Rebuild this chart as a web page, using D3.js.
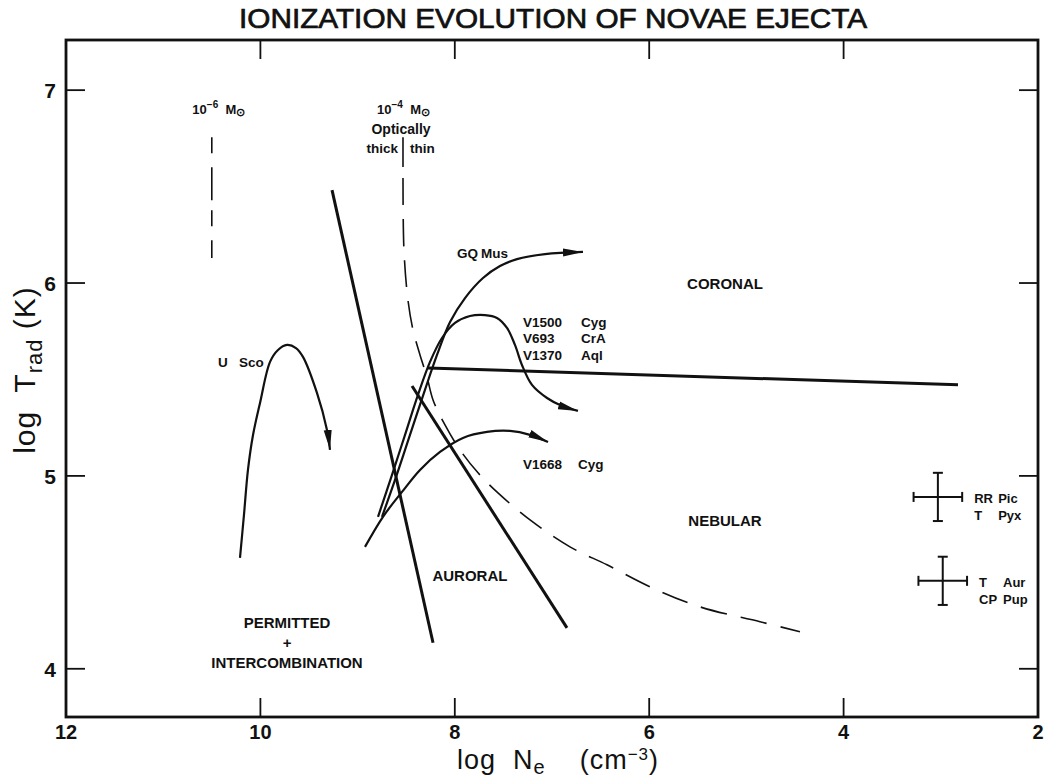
<!DOCTYPE html>
<html>
<head>
<meta charset="utf-8">
<script src="https://cdn.jsdelivr.net/npm/d3@7"></script>
<style>
  body { margin: 0; background: #fff; }
  text { font-family: "Liberation Sans", Arial, sans-serif; fill: #111; }
</style>
</head>
<body>
<div id="chart"></div>
<script>
// axis ticks
const xTicks = [12, 10, 8, 6, 4, 2]
, yTicks = [4, 5, 6, 7]
, innerXTicks = [10, 8, 6, 4];

// boundary lines (log Ne, log Trad)
const lineA = [[9.263, 6.482], [8.224, 4.135]]
, lineB = [[8.440, 5.466], [6.846, 4.212]]
, lineCoronal = [[8.276, 5.560], [2.823, 5.472]];

// 10^-6 Msun optical depth limit
const mass6 = [[10.5, 6.756], [10.5, 6.130]];

// 10^-4 Msun thick/thin separator and dashed limit
const mass4Sep = [[8.533, 6.756], [8.533, 6.601]];
const mass4 = [
  [8.533, 6.544], [8.523, 6.171], [8.482, 5.912], [8.430, 5.757], [8.358, 5.627],
  [8.286, 5.513], [8.224, 5.394], [8.101, 5.264], [7.947, 5.135], [7.761, 5.016],
  [7.556, 4.912], [7.226, 4.772], [6.815, 4.632], [6.434, 4.539], [5.992, 4.425],
  [5.477, 4.321], [4.860, 4.244], [4.449, 4.192]
];

// nova tracks
const uSco = [
  [10.210, 4.575], [10.169, 4.798], [10.128, 5.031], [10.076, 5.212], [10.004, 5.378],
  [9.901, 5.591], [9.819, 5.653], [9.726, 5.679], [9.634, 5.663], [9.562, 5.617],
  [9.418, 5.430], [9.315, 5.238], [9.284, 5.135]
];
const gqMus = [
  [8.749, 4.788], [8.615, 4.979], [8.461, 5.213], [8.307, 5.446], [8.183, 5.627],
  [8.049, 5.798], [7.895, 5.922], [7.710, 6.026], [7.535, 6.088], [7.360, 6.124],
  [7.072, 6.150], [6.681, 6.161]
];
const v1500 = [
  [8.790, 4.788], [8.646, 5.005], [8.512, 5.213], [8.379, 5.420], [8.255, 5.591],
  [8.132, 5.715], [7.998, 5.793], [7.844, 5.829], [7.689, 5.834], [7.566, 5.819],
  [7.463, 5.767], [7.381, 5.679], [7.309, 5.575], [7.206, 5.472], [7.051, 5.404],
  [6.918, 5.368], [6.733, 5.337]
];
const v1668 = [
  [8.924, 4.632], [8.739, 4.788], [8.543, 4.917], [8.358, 5.031], [8.152, 5.124],
  [7.916, 5.197], [7.669, 5.228], [7.432, 5.233], [7.226, 5.213], [7.041, 5.176]
];

// typical error bars
const errNames = [["RR", "Pic", "T", "Pyx"], ["T", "Aur", "CP", "Pup"]]
, errX = [3.03, 2.98]
, errY = [4.891, 4.456]
, errDx = 0.25
, errDy = 0.125;

// region labels
const regionNames = ["CORONAL", "NEBULAR", "AURORAL", "PERMITTED", "+", "INTERCOMBINATION"]
, regionX = [5.22, 5.22, 7.844, 9.726, 9.726, 9.726]
, regionY = [5.969, 4.741, 4.456, 4.213, 4.109, 4.005];

// track labels
const trackNames = [["U", "Sco"], ["GQ", "Mus"], ["V1500", "Cyg"], ["V693", "CrA"], ["V1370", "Aql"], ["V1668", "Cyg"]]
, trackX = [10.436, 7.977, 7.298, 7.298, 7.298, 7.298]
, trackY = [5.565, 6.130, 5.772, 5.689, 5.601, 5.036];

const width = 1050
, height = 781
, frameLeft = 66
, frameRight = 1038
, frameTop = 40
, frameBottom = 717
, ink = "#111";

const x = d3.scaleLinear().domain([12, 2]).range([frameLeft, frameRight])
, y = d3.scaleLinear().domain([3.75, 7.26]).range([frameBottom, frameTop]);

const svg = d3.select("#chart").append("svg")
  .attr("width", width)
  .attr("height", height);

svg.append("defs").append("marker")
  .attr("id", "arrow")
  .attr("viewBox", "0 -4.5 20 9")
  .attr("refX", 20)
  .attr("refY", 0)
  .attr("markerWidth", 20)
  .attr("markerHeight", 9)
  .attr("markerUnits", "userSpaceOnUse")
  .attr("orient", "auto")
  .append("path")
  .attr("d", "M0,-4L20,0L0,4Z")
  .style("fill", ink);

// frame
svg.append("rect")
  .attr("x", frameLeft).attr("y", frameTop)
  .attr("width", frameRight - frameLeft).attr("height", frameBottom - frameTop)
  .style("fill", "none").style("stroke", ink).style("stroke-width", 2.8);

// ticks on all four sides, pointing inward
const tickLen = 19;
innerXTicks.forEach(function(t) {
  svg.append("line").attr("x1", x(t)).attr("x2", x(t)).attr("y1", frameBottom).attr("y2", frameBottom - tickLen)
    .style("stroke", ink).style("stroke-width", 1.8);
  svg.append("line").attr("x1", x(t)).attr("x2", x(t)).attr("y1", frameTop).attr("y2", frameTop + tickLen)
    .style("stroke", ink).style("stroke-width", 1.8);
});
yTicks.forEach(function(t) {
  svg.append("line").attr("x1", frameLeft).attr("x2", frameLeft + tickLen).attr("y1", y(t)).attr("y2", y(t))
    .style("stroke", ink).style("stroke-width", 1.8);
  svg.append("line").attr("x1", frameRight).attr("x2", frameRight - tickLen).attr("y1", y(t)).attr("y2", y(t))
    .style("stroke", ink).style("stroke-width", 1.8);
});

svg.selectAll(".xtick").data(xTicks).enter().append("text")
  .attr("class", "xtick")
  .attr("x", function(d) { return x(d); })
  .attr("y", frameBottom + 22)
  .attr("text-anchor", "middle")
  .style("font-size", "20px").style("font-weight", "bold")
  .text(function(d) { return d; });

svg.selectAll(".ytick").data(yTicks).enter().append("text")
  .attr("class", "ytick")
  .attr("x", frameLeft - 10)
  .attr("y", function(d) { return y(d) + 8; })
  .attr("text-anchor", "end")
  .style("font-size", "21px").style("font-weight", "bold")
  .text(function(d) { return d; });

// title and axis labels
svg.append("text")
  .attr("x", 553).attr("y", 28)
  .attr("text-anchor", "middle")
  .attr("textLength", 628).attr("lengthAdjust", "spacingAndGlyphs")
  .style("font-size", "28px").style("stroke", ink).style("stroke-width", 0.7)
  .text("IONIZATION EVOLUTION OF NOVAE EJECTA");

const xl = svg.append("text")
  .attr("x", 558).attr("y", 769)
  .attr("text-anchor", "middle")
  .attr("xml:space", "preserve")
  .style("font-size", "27px").style("letter-spacing", "1px");
xl.append("tspan").text("log  N");
xl.append("tspan").attr("dy", 5).style("font-size", "20px").text("e");
xl.append("tspan").attr("dy", -5).text("    (cm");
xl.append("tspan").attr("dy", -9).style("font-size", "17px").text("−3");
xl.append("tspan").attr("dy", 9).text(")");

const yl = svg.append("text")
  .attr("transform", "translate(35,370) rotate(-90)")
  .attr("text-anchor", "middle")
  .attr("xml:space", "preserve")
  .style("font-size", "30px").style("letter-spacing", "1px");
yl.append("tspan").text("log  T");
yl.append("tspan").attr("dy", 7).style("font-size", "22px").text("rad");
yl.append("tspan").attr("dy", -7).text(" (K)");

const line = d3.line()
  .x(function(d) { return x(d[0]); })
  .y(function(d) { return y(d[1]); });
const curve = d3.line()
  .x(function(d) { return x(d[0]); })
  .y(function(d) { return y(d[1]); })
  .curve(d3.curveCatmullRom.alpha(0.5));

[lineA, lineB, lineCoronal].forEach(function(d) {
  svg.append("path").attr("d", line(d))
    .style("fill", "none").style("stroke", ink).style("stroke-width", 3);
});

svg.append("path").attr("d", line(mass6))
  .style("fill", "none").style("stroke", ink).style("stroke-width", 1.6)
  .style("stroke-dasharray", "16,14,33,10");
svg.append("path").attr("d", line(mass4Sep))
  .style("fill", "none").style("stroke", ink).style("stroke-width", 1.6);
svg.append("path").attr("d", curve(mass4))
  .style("fill", "none").style("stroke", ink).style("stroke-width", 1.6)
  .style("stroke-dasharray", "27,14");

[uSco, gqMus, v1500, v1668].forEach(function(d) {
  svg.append("path").attr("d", curve(d))
    .style("fill", "none").style("stroke", ink).style("stroke-width", 2.2)
    .attr("marker-end", "url(#arrow)");
});

// error crosses
const cap = 5;
errX.forEach(function(cx, i) {
  const cy = errY[i]
  , g = svg.append("g").style("stroke", ink).style("stroke-width", 2);
  g.append("line").attr("x1", x(cx + errDx)).attr("x2", x(cx - errDx)).attr("y1", y(cy)).attr("y2", y(cy));
  g.append("line").attr("x1", x(cx)).attr("x2", x(cx)).attr("y1", y(cy + errDy)).attr("y2", y(cy - errDy));
  g.append("line").attr("x1", x(cx + errDx)).attr("x2", x(cx + errDx)).attr("y1", y(cy) - cap).attr("y2", y(cy) + cap);
  g.append("line").attr("x1", x(cx - errDx)).attr("x2", x(cx - errDx)).attr("y1", y(cy) - cap).attr("y2", y(cy) + cap);
  g.append("line").attr("x1", x(cx) - cap).attr("x2", x(cx) + cap).attr("y1", y(cy + errDy)).attr("y2", y(cy + errDy));
  g.append("line").attr("x1", x(cx) - cap).attr("x2", x(cx) + cap).attr("y1", y(cy - errDy)).attr("y2", y(cy - errDy));
  const n = errNames[i], tx = x(cx - errDx) + 12, ty = y(cy) + 6;
  [[n[0], 0, 0], [n[1], 1, 0], [n[2], 0, 1], [n[3], 1, 1]].forEach(function(w) {
    svg.append("text")
      .attr("x", tx + w[1] * 24)
      .attr("y", ty + w[2] * 17)
      .style("font-size", "13px").style("font-weight", "bold")
      .text(w[0]);
  });
});

// region labels
regionNames.forEach(function(name, i) {
  svg.append("text")
    .attr("x", x(regionX[i])).attr("y", y(regionY[i]))
    .attr("text-anchor", "middle")
    .style("font-size", "15px").style("font-weight", "bold")
    .text(name);
});

// track labels: name + second word in a column
const colGap = [21, 24, 58, 58, 58, 55];
trackNames.forEach(function(pair, i) {
  const tx = x(trackX[i]), ty = y(trackY[i]);
  svg.append("text").attr("x", tx).attr("y", ty)
    .style("font-size", "13.5px").style("font-weight", "bold").text(pair[0]);
  svg.append("text").attr("x", tx + colGap[i]).attr("y", ty)
    .style("font-size", "13.5px").style("font-weight", "bold").text(pair[1]);
});

// mass limit labels
function massLabel(px, py, exp) {
  const t = svg.append("text").attr("x", px).attr("y", py)
    .attr("xml:space", "preserve")
    .style("font-size", "13px").style("font-weight", "bold");
  t.append("tspan").text("10");
  t.append("tspan").attr("dy", -6).style("font-size", "10px").text(exp);
  t.append("tspan").attr("dy", 6).text("  M");
  t.append("tspan").attr("dy", 2).style("font-size", "11px").text("⊙");
}
massLabel(x(10.70), y(6.875), "−6");
massLabel(x(8.80), y(6.875), "−4");

svg.append("text").attr("x", x(8.553)).attr("y", y(6.772))
  .attr("text-anchor", "middle")
  .style("font-size", "14px").style("font-weight", "bold").text("Optically");
svg.append("text").attr("x", x(8.584)).attr("y", y(6.674))
  .attr("text-anchor", "end")
  .style("font-size", "13.5px").style("font-weight", "bold").text("thick");
svg.append("text").attr("x", x(8.461)).attr("y", y(6.674))
  .style("font-size", "13.5px").style("font-weight", "bold").text("thin");
</script>
</body>
</html>
